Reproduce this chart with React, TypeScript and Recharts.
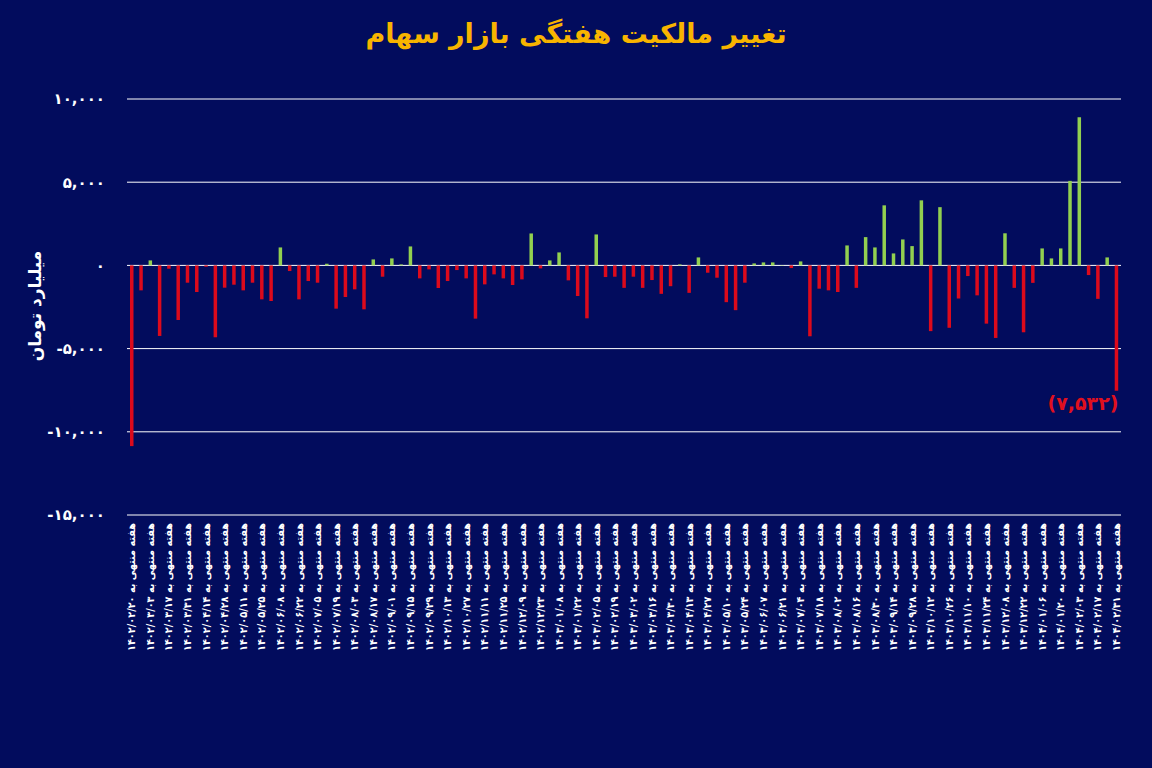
import { BarChart, Bar, XAxis, YAxis, CartesianGrid, Cell, LabelList } from 'recharts';

// week-ending dates (Jalali)
const weeks = [
  '1402/02/20', '1402/02/27', '1402/03/03', '1402/03/10', '1402/03/17', '1402/03/24', '1402/03/31', '1402/04/07',
  '1402/04/14', '1402/04/21', '1402/04/28', '1402/05/04', '1402/05/11', '1402/05/18', '1402/05/25', '1402/06/01',
  '1402/06/08', '1402/06/15', '1402/06/22', '1402/06/29', '1402/07/05', '1402/07/12', '1402/07/19', '1402/07/26',
  '1402/08/03', '1402/08/10', '1402/08/17', '1402/08/24', '1402/09/01', '1402/09/08', '1402/09/15', '1402/09/22',
  '1402/09/29', '1402/10/06', '1402/10/13', '1402/10/20', '1402/10/27', '1402/11/04', '1402/11/11', '1402/11/18',
  '1402/11/25', '1402/12/02', '1402/12/09', '1402/12/16', '1402/12/23', '1403/01/01', '1403/01/08', '1403/01/15',
  '1403/01/22', '1403/01/29', '1403/02/05', '1403/02/12', '1403/02/19', '1403/02/26', '1403/03/02', '1403/03/09',
  '1403/03/16', '1403/03/23', '1403/03/30', '1403/04/06', '1403/04/13', '1403/04/20', '1403/04/27', '1403/05/03',
  '1403/05/10', '1403/05/17', '1403/05/24', '1403/05/31', '1403/06/07', '1403/06/14', '1403/06/21', '1403/06/28',
  '1403/07/04', '1403/07/11', '1403/07/18', '1403/07/25', '1403/08/02', '1403/08/09', '1403/08/16', '1403/08/23',
  '1403/08/30', '1403/09/07', '1403/09/14', '1403/09/21', '1403/09/28', '1403/10/05', '1403/10/12', '1403/10/19',
  '1403/10/26', '1403/11/03', '1403/11/10', '1403/11/17', '1403/11/24', '1403/12/01', '1403/12/08', '1403/12/15',
  '1403/12/22', '1403/12/29', '1404/01/06', '1404/01/13', '1404/01/20', '1404/01/27', '1404/02/03', '1404/02/10',
  '1404/02/17', '1404/02/24', '1404/02/31',
];

// weekly change in ownership, billion toman
const ownershipChange = [
  -10860, -1500, 300, -4240, -200, -3280, -1040, -1600, -80, -4320, -1340, -1160, -1500, -1040, -2040, -2140,
  1080, -340, -2040, -940, -1040, 100, -2600, -1900, -1440, -2640, 360, -680, 420, 60, 1140, -780,
  -240, -1360, -940, -280, -780, -3200, -1140, -540, -780, -1180, -840, 1920, -180, 300, 780, -900,
  -1840, -3180, 1860, -700, -680, -1350, -680, -1350, -880, -1710, -1250, 60, -1650, 480, -440, -740,
  -2210, -2690, -1040, 120, 180, 180, 20, -160, 240, -4260, -1400, -1500, -1600, 1200, -1350, 1700,
  1080, 3610, 720, 1560, 1160, 3910, -3950, 3500, -3750, -1990, -640, -1800, -3500, -4360, 1930, -1350,
  -4020, -1050, 1020, 420, 1020, 5080, 8900, -580, -2010, 480, -7532,
];

const yTicks = [10000, 5000, 0, -5000, -10000, -15000];

const faDigits = '۰۱۲۳۴۵۶۷۸۹';
const toFa = (s: string) => s.replace(/\d/g, (d) => faDigits[+d]);

const data = weeks.map((week, i) => ({ week, value: ownershipChange[i] }));

const FONT = '"DejaVu Sans", sans-serif';
const FONT_NARROW = '"DejaVu Sans Condensed", "DejaVu Sans", sans-serif';
const BG = '#020c5d';

function WeekTick({ x, y, payload }: any) {
  return (
    <g transform={`translate(${x},${y})`}>
      <text
        transform="rotate(-90)"
        textAnchor="end"
        dy="0.35em"
        fill="#ffffff"
        fontSize={10.5}
        fontWeight="bold"
        fontFamily={FONT_NARROW}
        textLength={128}
        lengthAdjust="spacingAndGlyphs"
      >
        {'\u202B' + 'هفته منتهی به ' + toFa(payload.value) + '\u202C'}
      </text>
    </g>
  );
}

function LastLabel(props: any) {
  const { x, y, width, height, index, value } = props;
  if (index !== data.length - 1) return null;
  const bottom = Math.max(y, y + height);
  return (
    <text
      x={x + width / 2 + 2}
      y={bottom + 19}
      textAnchor="end"
      fill="#e0101e"
      fontSize={19}
      fontWeight="bold"
      fontFamily={FONT}
    >
      {'(' + toFa(Math.abs(value).toLocaleString('en-US')) + ')'}
    </text>
  );
}

export default function App() {
  return (
    <div style={{ position: 'absolute', left: 0, top: 0, width: 1152, height: 768, background: BG, overflow: 'hidden' }}>
      <div
        style={{
          position: 'absolute',
          top: 18,
          left: 0,
          width: 1152,
          textAlign: 'center',
          color: '#f8b400',
          fontFamily: FONT,
          fontWeight: 'bold',
          fontSize: 27,
          direction: 'rtl',
        }}
      >
        تغییر مالکیت هفتگی بازار سهام
      </div>
      <div
        style={{
          position: 'absolute',
          left: 35,
          top: 306,
          transform: 'translate(-50%, -50%) rotate(-90deg)',
          color: '#ffffff',
          fontFamily: FONT,
          fontWeight: 'bold',
          fontSize: 17,
          whiteSpace: 'nowrap',
          direction: 'rtl',
        }}
      >
        میلیارد تومان
      </div>
      <div style={{ position: 'absolute', left: 0, top: 0 }}>
        <BarChart
          width={1152}
          height={768}
          data={data}
          margin={{ top: 99, right: 31, left: 27, bottom: 113 }}
          barCategoryGap={0}
        >
          <CartesianGrid vertical={false} stroke="#ffffff" strokeWidth={1} />
          <XAxis
            dataKey="week"
            interval={1}
            axisLine={false}
            tickLine={false}
            height={140}
            tick={<WeekTick />}
          />
          <YAxis
            domain={[-15000, 10000]}
            ticks={yTicks}
            width={100}
            axisLine={false}
            tickLine={false}
            tickMargin={16}
            tick={{ fill: '#ffffff', fontSize: 15, fontWeight: 'bold', fontFamily: FONT }}
            tickFormatter={(v: number) => toFa(v.toLocaleString('en-US'))}
          />
          <Bar dataKey="value" barSize={3.5} isAnimationActive={false}>
            {data.map((d, i) => (
              <Cell key={i} fill={d.value < 0 ? '#dc0a1c' : '#92d050'} />
            ))}
            <LabelList dataKey="value" content={<LastLabel />} />
          </Bar>
        </BarChart>
      </div>
    </div>
  );
}
